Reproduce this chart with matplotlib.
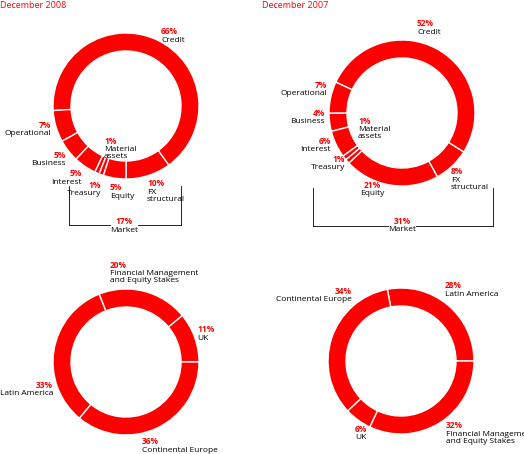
import matplotlib
matplotlib.use("Agg")
import matplotlib.pyplot as plt

plt.rcParams["font.family"] = "Open Sans"
RED = "#ff0000"
H = 454

risk_labels = ["FX\nstructural", "Credit", "Operational", "Business", "Interest",
               "Treasury", "Material\nassets", "Equity"]
risk_2008 = [10, 66, 7, 5, 5, 1, 1, 5]
risk_2007 = [8, 52, 7, 4, 6, 1, 1, 21]
market_2008 = 17
market_2007 = 31

area_2008_labels = ["UK", "Financial Management\nand Equity Stakes", "Latin America", "Continental Europe"]
area_2008 = [11, 20, 33, 36]
area_2007_labels = ["Latin America", "Continental Europe", "UK", "Financial Management\nand Equity Stakes"]
area_2007 = [28, 34, 6, 32]

fig = plt.figure(figsize=(5.24, 4.54), dpi=100)
ax = fig.add_axes([0, 0, 1, 1])
ax.set_xlim(0, 524)
ax.set_ylim(0, H)
ax.axis("off")


def donut(vals, cx, cy, start):
    ax.pie(vals, center=(cx, H - cy), radius=73, startangle=start, counterclock=True,
           colors=[RED] * len(vals),
           wedgeprops=dict(width=18, edgecolor="white", linewidth=1.0))


def lab(x, y, pct, name, ha="left"):
    ax.text(x, H - y, f"{pct}%", color=RED, fontsize=6, fontweight="bold", ha=ha, va="center")
    ax.text(x, H - y - 5, name, color="black", fontsize=6, ha=ha, va="top", linespacing=1.0)


def bracket(x0, x1, ytop, ybot, xc, gap):
    ys = [H - ytop, H - ybot]
    ax.plot([x0, x0], ys, color="black", lw=0.6)
    ax.plot([x1, x1], ys, color="black", lw=0.6)
    ax.plot([x0, xc - gap], [H - ybot] * 2, color="black", lw=0.6)
    ax.plot([xc + gap, x1], [H - ybot] * 2, color="black", lw=0.6)


ax.text(0, H - 6, "December 2008", color=RED, fontsize=6.5, va="center")
ax.text(262, H - 6, "December 2007", color=RED, fontsize=6.5, va="center")

donut(risk_2008, 126, 106, -90)
donut(risk_2007, 402, 113, -61)
donut(area_2008, 126, 362, 0)
donut(area_2007, 401, 361, 0)

# 2008 risk labels
pos08 = [(147, 184, "left"), (161, 32, "left"), (51, 125, "right"), (66, 155, "right"),
         (82, 174, "right"), (101, 185, "right"), (104, 141, "left"), (110, 188, "left")]
for (x, y, ha), name, v in zip(pos08, risk_labels, risk_2008):
    lab(x, y, v, name, ha)
lab(124, 222, market_2008, "Market", "center")
bracket(69, 181, 186, 225, 124, 14)

# 2007 risk labels
pos07 = [(451, 172, "left"), (417, 24, "left"), (327, 85, "right"), (325, 113, "right"),
         (331, 141, "right"), (345, 159, "right"), (358, 121, "left"), (372, 185, "center")]
for (x, y, ha), name, v in zip(pos07, risk_labels, risk_2007):
    lab(x, y, v, name, ha)
lab(402, 221, market_2007, "Market", "center")
bracket(313, 493, 188, 226, 402, 14)

# area labels
posA08 = [(197, 330, "left"), (110, 265, "left"), (53, 385, "right"), (142, 442, "left")]
for (x, y, ha), name, v in zip(posA08, area_2008_labels, area_2008):
    lab(x, y, v, name, ha)
posA07 = [(445, 286, "left"), (352, 291, "right"), (361, 429, "center"), (446, 426, "left")]
for (x, y, ha), name, v in zip(posA07, area_2007_labels, area_2007):
    lab(x, y, v, name, ha)

ax.set_xlim(0, 524)
ax.set_ylim(0, H)
ax.set_aspect("auto")
fig.savefig("out.png", dpi=100)
